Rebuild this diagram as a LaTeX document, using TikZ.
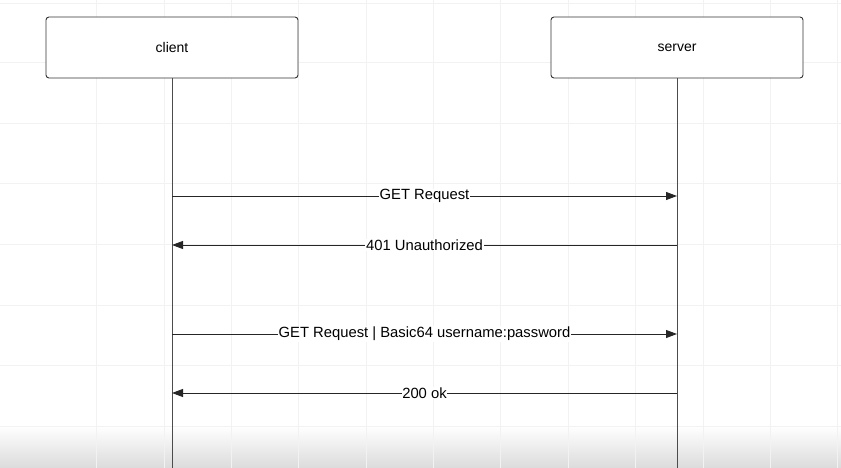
\documentclass[tikz,border=0pt]{standalone}
\usepackage{fontspec}
\setmainfont{Liberation Sans}
\usetikzlibrary{arrows.meta}

\tikzset{
  actor/.style={draw=black!80, fill=white, rounded corners=3pt, line width=0.9pt, minimum width=252pt, minimum height=61pt, font=\fontsize{14}{16}\selectfont},
  lifeline/.style={draw=black!70, line width=1pt},
  msg/.style={draw=black!85, line width=0.9pt, -{Triangle[length=11pt,width=8pt]}},
  lbl/.style={fill=white, inner sep=0.6pt, font=\fontsize{14.8}{17}\selectfont},
  gridline/.style={draw=black!5, line width=0.5pt},
}

\begin{document}
\begin{tikzpicture}[x=1pt,y=-1pt]
\useasboundingbox (0,0) rectangle (841,468);

% background grid
\shade[top color=white, bottom color=black!14] (0,426) rectangle (841,468);
\foreach \gx in {96,164,231,298,366,433,500,568,635,703,770,837}
  \draw[gridline] (\gx,0) -- (\gx,468);
\foreach \gy in {3,62,123,183,244,305,365,426}
  \draw[gridline] (0,\gy) -- (841,\gy);

\node[actor] (client) at (172,47.5) {client};
\node[actor] (server) at (677,47.5) {server};

\coordinate (cend) at (172,468);
\coordinate (send) at (677,468);
\draw[lifeline] (client.south) -- (cend);
\draw[lifeline] (server.south) -- (send);

\coordinate (c1) at (172,196);
\coordinate (s1) at (677,196);
\coordinate (c2) at (172,245);
\coordinate (s2) at (677,245);
\coordinate (c3) at (172,334);
\coordinate (s3) at (677,334);
\coordinate (c4) at (172,393);
\coordinate (s4) at (677,393);

\draw[msg] (c1) -- node[lbl] {GET Request} (s1);
\draw[msg] (s2) -- node[lbl] {401 Unauthorized} (c2);
\draw[msg] (c3) -- node[lbl] {GET Request | Basic64 username:password} (s3);
\draw[msg] (s4) -- node[lbl] {200 ok} (c4);
\end{tikzpicture}
\end{document}
